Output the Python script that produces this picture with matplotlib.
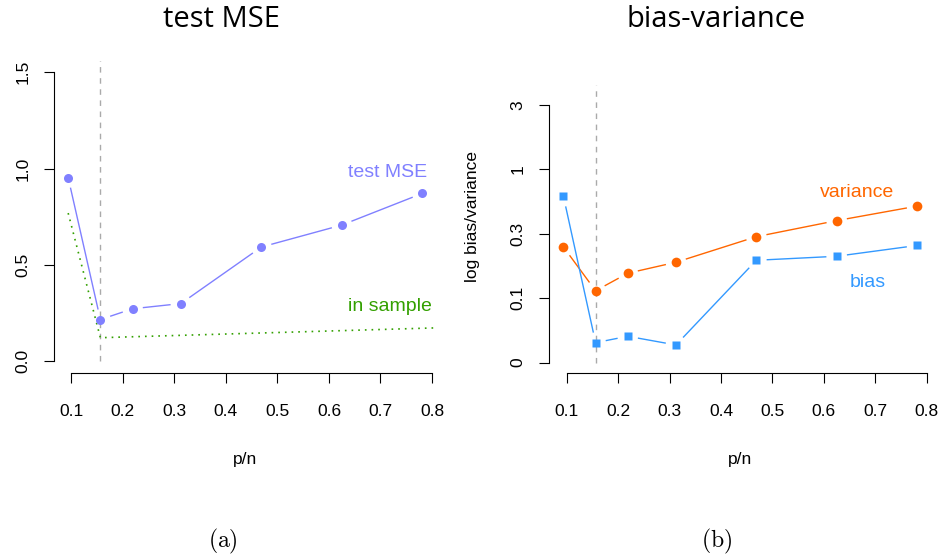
import numpy as np
import matplotlib
matplotlib.use("Agg")
import matplotlib.pyplot as plt

plt.rcParams['font.family'] = ['Liberation Sans', 'DejaVu Sans']
plt.rcParams['mathtext.fontset'] = 'cm'

# p/n values (n = 64)
pn = [0.09375, 0.15625, 0.21875, 0.3125, 0.46875, 0.625, 0.78125]
p_opt = 0.15625

test_mse = [0.953, 0.217, 0.273, 0.300, 0.593, 0.707, 0.871]
in_sample_x = [0.09375, 0.15625, 0.80875]
in_sample = [0.769, 0.123, 0.174]

variance = [0.266, 0.126, 0.170, 0.205, 0.317, 0.417, 0.534]
bias = [0.631, 0.052, 0.058, 0.050, 0.212, 0.227, 0.273]

xticks = [0.1, 0.2, 0.3, 0.4, 0.5, 0.6, 0.7, 0.8]
xlabels = ["0.1", "0.2", "0.3", "0.4", "0.5", "0.6", "0.7", "0.8"]
yticks_a = [0.0, 0.5, 1.0, 1.5]
ylabels_a = ["0.0", "0.5", "1.0", "1.5"]
yticks_b = [3.0**-3, 3.0**-2, 3.0**-1, 1.0, 3.0]
ylabels_b = ["0", "0.1", "0.3", "1", "3"]

c_mse = '#8080FF'
c_ins = '#33A000'
c_var = '#FF6600'
c_bias = '#3399FF'
c_vline = '#AAAAAA'

W, H = 941, 560
fig = plt.figure(figsize=(W / 100, H / 100), dpi=100)


def px_axes(left, top, right, bottom):
    return fig.add_axes([left / W, 1 - bottom / H, (right - left) / W, (bottom - top) / H])


def r_style(ax, xb, yb):
    for s in ['top', 'right']:
        ax.spines[s].set_visible(False)
    ax.spines['left'].set_bounds(*yb)
    ax.spines['bottom'].set_bounds(*xb)
    ax.tick_params(direction='out', length=7, width=0.8, labelsize=12.5)
    ax.tick_params(axis='x', pad=15)
    ax.tick_params(axis='y', pad=10, labelrotation=90)
    for lab in ax.get_yticklabels():
        lab.set_va('center')


def gapped(ax, x, y, color, trim=11):
    # R type="b": line segments stop short of the points
    pts = ax.transData.transform(np.column_stack([x, y]))
    inv = ax.transData.inverted()
    for p0, p1 in zip(pts[:-1], pts[1:]):
        d = p1 - p0
        L = np.hypot(*d)
        if L <= 2 * trim:
            continue
        u = d / L
        seg = inv.transform(np.array([p0 + u * trim, p1 - u * trim]))
        ax.plot(seg[:, 0], seg[:, 1], color=color, lw=1.0)


xlim = (0.06625, 0.80875)

# (a) test MSE
ax1 = px_axes(54, 60.5, 436.5, 373)
ax1.set_xlim(xlim)
ax1.set_ylim(-0.06, 1.56)
ax1.set_xticks(xticks)
ax1.set_xticklabels(xlabels)
ax1.set_yticks(yticks_a)
ax1.set_yticklabels(ylabels_a)
r_style(ax1, (0.1, 0.8), (0, 1.5))
ax1.vlines(p_opt, 0, 1.56, colors=c_vline, linestyles=(0, (4, 4)), lw=1.0)
ax1.plot(in_sample_x, in_sample, color=c_ins, lw=1.2, linestyle=(0, (1, 3)))
gapped(ax1, pn, test_mse, c_mse)
ax1.plot(pn, test_mse, 'o', color=c_mse, ms=6.5, mec='none')
ax1.text(0.7128, 0.981, "test MSE", color=c_mse, fontsize=14, ha='center', va='center')
ax1.text(0.718, 0.286, "in sample", color=c_ins, fontsize=14, ha='center', va='center')
ax1.set_xlabel("p/n", fontsize=12.5, labelpad=24)

# (b) bias-variance
ax2 = px_axes(549.3, 60.5, 931.2, 373)
ax2.set_yscale('log')
ax2.set_xlim(xlim)
ax2.set_ylim(0.0310, 6.40)
ax2.set_xticks(xticks)
ax2.set_xticklabels(xlabels)
ax2.set_yticks(yticks_b)
ax2.set_yticklabels(ylabels_b)
ax2.yaxis.set_minor_locator(matplotlib.ticker.NullLocator())
r_style(ax2, (0.1, 0.8), (3.0**-3, 3.0))
ax2.vlines(p_opt, 3.0**-3, 4.2, colors=c_vline, linestyles=(0, (4, 4)), lw=1.0)
gapped(ax2, pn, variance, c_var)
gapped(ax2, pn, bias, c_bias)
ax2.plot(pn, variance, 'o', color=c_var, ms=7, mec='none')
ax2.plot(pn, bias, 's', color=c_bias, ms=6.3, mec='none')
ax2.text(0.664, 0.671, "variance", color=c_var, fontsize=14, ha='center', va='center')
ax2.text(0.6855, 0.145, "bias", color=c_bias, fontsize=14, ha='center', va='center')
ax2.set_xlabel("p/n", fontsize=12.5, labelpad=24)
ax2.set_ylabel("log bias/variance", fontsize=12.5, labelpad=22)

# titles and sub-captions
fig.text(221.7 / W, 1 - 26.7 / H, "test MSE", family='Open Sans', fontsize=21,
         ha='center', va='baseline')
fig.text(716.5 / W, 1 - 26.7 / H, "bias-variance", family='Open Sans', fontsize=21,
         ha='center', va='baseline')
fig.text(222.5 / W, 1 - 547 / H, r'$\mathrm{(a)}$', fontsize=17, ha='center', va='baseline')
fig.text(717 / W, 1 - 547 / H, r'$\mathrm{(b)}$', fontsize=17, ha='center', va='baseline')

fig.savefig("out.png", dpi=100)
